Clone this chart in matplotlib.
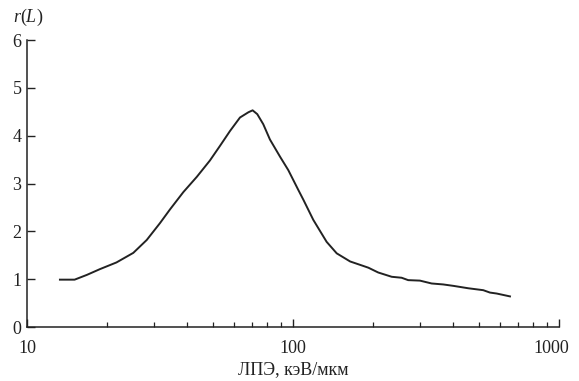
import matplotlib
matplotlib.use('Agg')
import matplotlib.pyplot as plt
import matplotlib.transforms as mtransforms
from matplotlib.ticker import LogLocator, NullFormatter, FixedLocator

plt.rcParams['font.family'] = ['Liberation Serif', 'DejaVu Serif']
plt.rcParams['mathtext.fontset'] = 'custom'
plt.rcParams['mathtext.it'] = 'Liberation Serif:italic'
plt.rcParams['mathtext.rm'] = 'Liberation Serif'

# LET values (keV/um) and r(L)
let_vals = [13.3, 15.1, 16.8, 18.8, 21.7, 25.1, 28.2, 31.6, 34.5, 38.7, 43.5, 48.7,
            53.2, 58.0, 63.2, 68.0, 70.5, 73.4, 77.3, 81.9, 89.4, 96.0, 104.6, 109.4,
            119.2, 133.8, 146, 164, 178.6, 192, 209, 235, 256, 271, 300, 332, 367,
            401, 456, 519, 550, 583, 654]
r_vals = [0.99, 0.99, 1.09, 1.21, 1.35, 1.55, 1.82, 2.17, 2.46, 2.82, 3.14, 3.48,
          3.79, 4.10, 4.38, 4.49, 4.53, 4.45, 4.24, 3.92, 3.56, 3.28, 2.87, 2.66,
          2.24, 1.78, 1.54, 1.37, 1.30, 1.24, 1.14, 1.05, 1.03, 0.98, 0.97, 0.91, 0.89,
          0.86, 0.81, 0.77, 0.72, 0.70, 0.64]
y_ticks = [0, 1, 2, 3, 4, 5, 6]
x_ticks = [10, 100, 1000]

fig = plt.figure(figsize=(5.79, 3.81), dpi=100)
ax = fig.add_axes([0.0466, 0.1417, 0.9189, 0.7533])

ax.plot(let_vals, r_vals, color='#222222', lw=1.4, solid_joinstyle='round')

ax.set_xscale('log')
ax.set_xlim(10, 1000)
ax.set_ylim(0, 6)
ax.xaxis.set_major_locator(FixedLocator(x_ticks))
ax.set_xticklabels([str(t) for t in x_ticks])
ax.xaxis.set_minor_locator(LogLocator(base=10, subs=range(2, 10)))
ax.xaxis.set_minor_formatter(NullFormatter())
ax.set_yticks(y_ticks)

for s in ['top', 'right']:
    ax.spines[s].set_visible(False)
for s in ['left', 'bottom']:
    ax.spines[s].set_linewidth(1.1)
    ax.spines[s].set_color('#222222')

ax.tick_params(axis='both', which='major', direction='in', length=6, width=1.0,
               colors='#222222', labelsize=13)
ax.tick_params(axis='x', which='major', pad=9)
ax.tick_params(axis='y', which='major', pad=4)
ax.tick_params(axis='x', which='minor', direction='in', length=3.5, width=0.9,
               colors='#222222')

# last tick label sits slightly left so it fits in the frame
last = ax.get_xticklabels()[-1]
last.set_transform(last.get_transform() +
                   mtransforms.ScaledTranslation(-8 / 100, 0, fig.dpi_scale_trans))

ax.set_xlabel('ЛПЭ, кэВ/мкм', fontsize=13, labelpad=3, color='#222222')
fig.text(0.048, 0.955, r'$r$($L$)', fontsize=13, ha='center', va='center',
         color='#222222')

fig.savefig('out.png', dpi=100)
